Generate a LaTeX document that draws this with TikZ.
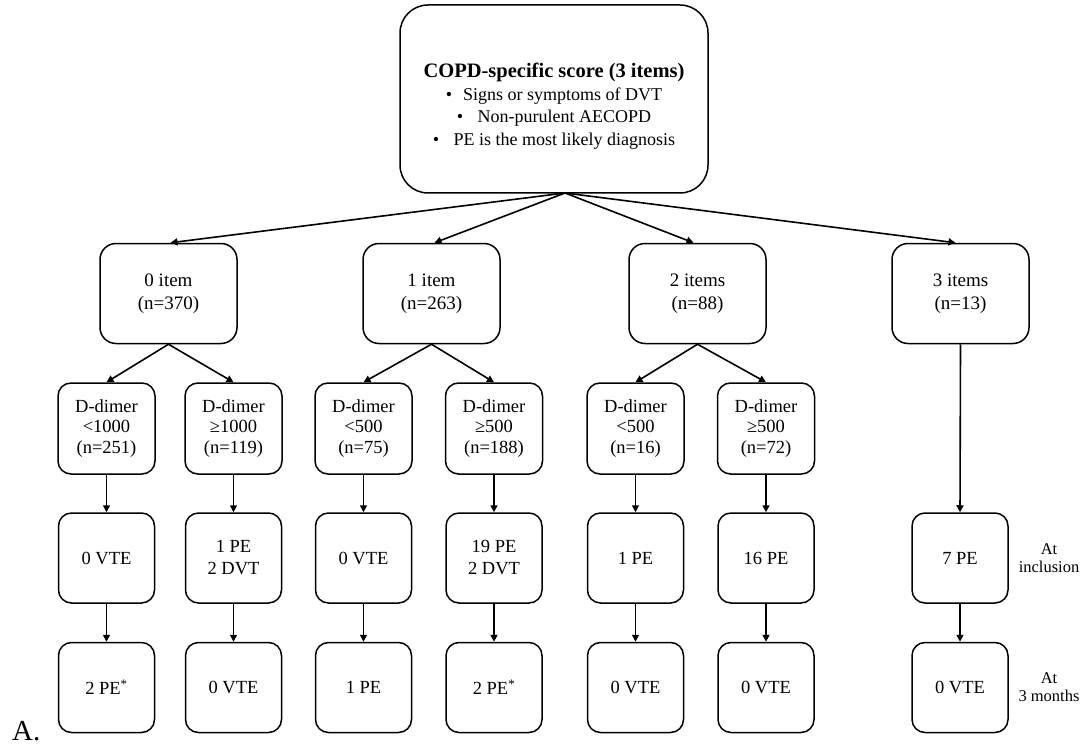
\documentclass[tikz,border=0pt]{standalone}
\usepackage{fontspec}
\setmainfont{Liberation Serif}
\usetikzlibrary{arrows.meta,calc}

\tikzset{
  box/.style={draw=black, line width=1.5pt, fill=white, align=center, inner sep=0pt},
  topbox/.style={box, rounded corners=28pt, minimum width=308pt, minimum height=188pt},
  itembox/.style={box, rounded corners=16pt, minimum width=137pt, minimum height=100pt,
    font=\fontsize{19pt}{22.5pt}\selectfont},
  ddbox/.style={box, rounded corners=13pt, minimum width=97pt, minimum height=91pt,
    font=\fontsize{18.5pt}{20.5pt}\selectfont},
  resbox/.style={box, rounded corners=13pt, minimum width=96pt, minimum height=90pt,
    font=\fontsize{18.5pt}{22pt}\selectfont},
  timelabel/.style={align=center, inner sep=0pt, font=\fontsize{16.5pt}{18.5pt}\selectfont},
  link/.style={line width=1.6pt, -{Triangle[length=7pt,width=7pt]}}
}

\begin{document}
\begin{tikzpicture}[x=1pt, y=-1pt]
\useasboundingbox (0,0) rectangle (1081,746);

% score definition
\node[topbox] (score) at (554,99) {};
\node[align=center, inner sep=0pt, font=\fontsize{18pt}{22.5pt}\selectfont] (scoretext) at (554,106)
  {{\fontsize{20.5pt}{22.5pt}\selectfont\bfseries COPD-specific score (3 items)}\\
   \textbullet\hspace{0.6em}Signs or symptoms of DVT\\
   \textbullet\hspace{0.8em}Non-purulent AECOPD\\
   \textbullet\hspace{0.8em}PE is the most likely diagnosis};
\coordinate (hub) at (565,193);

% number of items present
\node[itembox] (i0) at (168.5,293.5) {0 item\\(n=370)};
\node[itembox] (i1) at (431.5,293.5) {1 item\\(n=263)};
\node[itembox] (i2) at (697.5,293.5) {2 items\\(n=88)};
\node[itembox] (i3) at (960.5,293.5) {3 items\\(n=13)};

% D-dimer thresholds
\node[ddbox] (d1) at (106.5,428.5) {D-dimer\\<1000\\(n=251)};
\node[ddbox] (d2) at (233.5,428.5) {D-dimer\\≥1000\\(n=119)};
\node[ddbox] (d3) at (363.5,428.5) {D-dimer\\<500\\(n=75)};
\node[ddbox] (d4) at (494,428.5) {D-dimer\\≥500\\(n=188)};
\node[ddbox] (d5) at (635.5,428.5) {D-dimer\\<500\\(n=16)};
\node[ddbox] (d6) at (766,428.5) {D-dimer\\≥500\\(n=72)};

% events at inclusion
\node[resbox] (a1) at (106.5,558) {0 VTE};
\node[resbox] (a2) at (233.5,558) {1 PE\\2 DVT};
\node[resbox] (a3) at (363.5,558) {0 VTE};
\node[resbox] (a4) at (494,558) {19 PE\\2 DVT};
\node[resbox] (a5) at (635.5,558) {1 PE};
\node[resbox] (a6) at (766,558) {16 PE};
\node[resbox] (a7) at (960,558) {7 PE};

% events at 3 months
\node[resbox] (b1) at (106.5,687.5) {2 PE\textsuperscript{*}};
\node[resbox] (b2) at (233.5,687.5) {0 VTE};
\node[resbox] (b3) at (363.5,687.5) {1 PE};
\node[resbox] (b4) at (494,687.5) {2 PE\textsuperscript{*}};
\node[resbox] (b5) at (635.5,687.5) {0 VTE};
\node[resbox] (b6) at (766,687.5) {0 VTE};
\node[resbox] (b7) at (960,687.5) {0 VTE};

% time points
\node[timelabel] (tin) at (1049,558) {At\\inclusion};
\node[timelabel] (t3m) at (1049,687) {At\\3 months};

% panel letter
\node[anchor=base west, inner sep=0pt, font=\fontsize{29pt}{29pt}\selectfont] (panel) at (12,740) {A.};

% connectors
\draw[link] (hub) -- ($(i0.north)+(2,0)$);
\draw[link] (hub) -- ($(i1.north)+(3,0)$);
\draw[link] (hub) -- ($(i2.north)+(-4,0)$);
\draw[link] (hub) -- ($(i3.north)+(-5,0)$);

\draw[link] (i0.south) -- (d1.north);
\draw[link] (i0.south) -- (d2.north);
\draw[link] (i1.south) -- (d3.north);
\draw[link] (i1.south) -- (d4.north);
\draw[link] (i2.south) -- (d5.north);
\draw[link] (i2.south) -- (d6.north);
\draw[link] (i3.south) -- (a7.north);

\foreach \k in {1,...,6} {
  \draw[link] (d\k.south) -- (a\k.north);
}
\foreach \k in {1,...,7} {
  \draw[link] (a\k.south) -- (b\k.north);
}
\end{tikzpicture}
\end{document}
